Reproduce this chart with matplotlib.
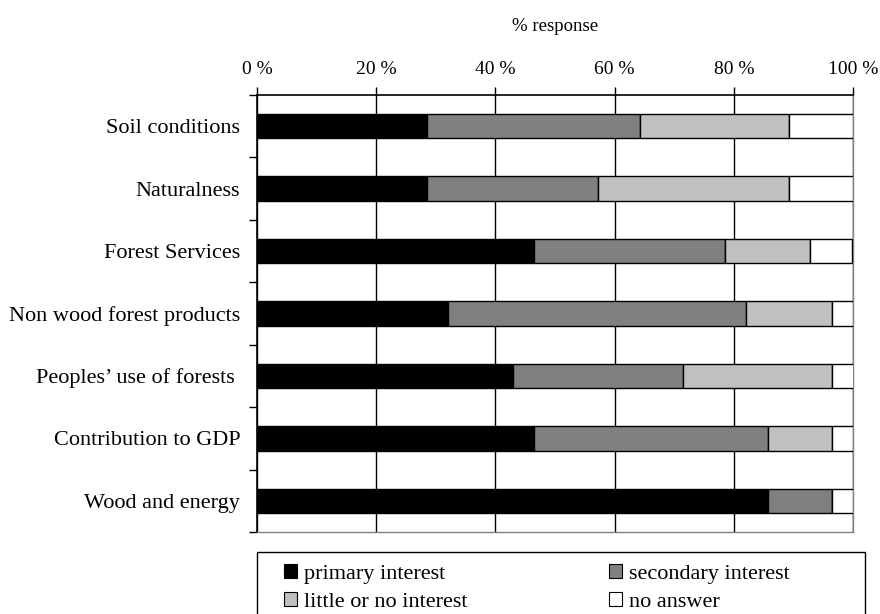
import numpy as np
import matplotlib.pyplot as plt
from matplotlib.patches import Patch, Rectangle

plt.rcParams['font.family'] = ['Liberation Serif', 'DejaVu Serif']

# Data (% of responses)
categories = ["Soil conditions", "Naturalness", "Forest Services",
              "Non wood forest products", "Peoples\u2019 use of forests ",
              "Contribution to GDP", "Wood and energy"]
primary = [28.6, 28.6, 46.4, 32.1, 42.9, 46.4, 85.7]
secondary = [35.7, 28.6, 32.1, 50.0, 28.6, 39.3, 10.7]
little = [25.0, 32.1, 14.3, 14.3, 25.0, 10.7, 0.0]
no_answer = [10.7, 10.7, 7.1, 3.6, 3.6, 3.6, 3.6]

series = [primary, secondary, little, no_answer]
labels = ["primary interest", "secondary interest", "little or no interest", "no answer"]
colors = ["#000000", "#808080", "#c0c0c0", "#ffffff"]
fs = 16

fig = plt.figure(figsize=(8.8, 6.14), dpi=100)
ax = fig.add_axes([257 / 880, 1 - 532 / 614, (853 - 257) / 880, (532 - 95) / 614])

y = np.arange(len(categories))
left = np.zeros(len(categories))
for vals, col, lab in zip(series, colors, labels):
    ax.barh(y, vals, left=left, height=0.39, color=col, edgecolor='black',
            linewidth=1, label=lab, zorder=3)
    left += np.array(vals)

ax.set_xlim(0, 100)
ax.set_ylim(len(categories) - 0.5, -0.5)

# x axis on top
ax.xaxis.tick_top()
ax.xaxis.set_label_position('top')
ax.set_xticks(np.arange(0, 101, 20))
ax.set_xticklabels([f"{v} %" for v in range(0, 101, 20)], fontsize=14)
ax.set_xlabel("% response", fontsize=13.5, labelpad=21)
ax.tick_params(axis='x', direction='out', length=6, width=1, pad=6.5)
ax.grid(axis='x', color='black', linewidth=1, zorder=0)

# y ticks between categories, labels at category centers
ax.set_yticks(np.arange(-0.5, len(categories), 1.0))
ax.set_yticklabels([])
ax.set_yticks(y, minor=True)
ax.set_yticklabels(categories, minor=True, fontsize=fs)
ax.tick_params(axis='y', which='major', direction='out', length=6, width=1)
ax.tick_params(axis='y', which='minor', length=0, pad=12)

for side in ['top', 'left']:
    ax.spines[side].set_linewidth(1.2)
for side in ['right', 'bottom']:
    ax.spines[side].set_color('#808080')
    ax.spines[side].set_linewidth(1)

# legend box (runs off the bottom edge like the original)
fig.patches.append(Rectangle((257 / 880, -0.05), (865 - 257) / 880, (614 - 552) / 614 + 0.05,
                             transform=fig.transFigure, facecolor='white',
                             edgecolor='black', linewidth=1))
handles = [Patch(facecolor=c, edgecolor='black', linewidth=0.8) for c in colors]
for cols, x0 in [((0, 2), 284), ((1, 3), 609)]:
    fig.legend([handles[i] for i in cols], [labels[i] for i in cols],
               loc='upper left', bbox_to_anchor=(x0 / 880, 1 - 564 / 614),
               fontsize=fs, frameon=False, handlelength=0.6, handleheight=0.6,
               handletextpad=0.3, borderpad=0, labelspacing=0.35,
               borderaxespad=0)

fig.savefig("out.png", dpi=100)
